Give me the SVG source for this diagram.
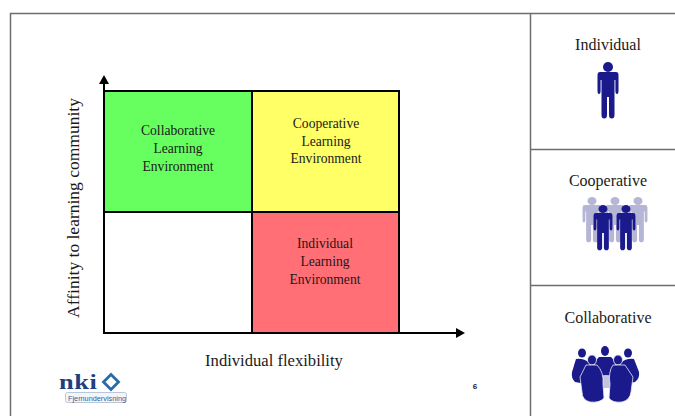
<svg xmlns="http://www.w3.org/2000/svg" width="675" height="416" viewBox="0 0 675 416">
<style>
.t{font-family:"Liberation Serif","Times New Roman",serif;fill:#1a1a1a;text-anchor:middle}
.c{font-size:13.6px}.h{font-size:16px}.a{font-size:16.6px}
.frame{fill:none;stroke:#6e6e6e;stroke-width:1.5}
.cell{stroke:#000;stroke-width:2}
.ax{fill:none;stroke:#000;stroke-width:2}
.navy{fill:#1a1a8c}
.front{fill:#1a1a8c;stroke:#e8e8f4;stroke-width:.8}
</style>
<defs>
<marker id="arr" markerUnits="userSpaceOnUse" markerWidth="10" markerHeight="10" refX="1" refY="5" orient="auto"><path d="M0 0L9 5L0 10z" fill="#000"/></marker>
<g id="person"><ellipse cx="0" cy="5" rx="5" ry="5"/><path d="M-8 10H8Q10.500 10 10.500 13V29Q10.500 32 9 32Q7.400 32 7.400 29V18H6.500V53Q6.500 56.500 3.800 56.500Q1 56.500 1 53V35H-1V53Q-1 56.500 -3.800 56.500Q-6.500 56.500 -6.500 53V18H-7.400V29Q-7.400 32 -9 32Q-10.500 32 -10.500 29V13Q-10.500 10 -8 10z"/></g>
</defs>
<rect width="675" height="416" fill="#fff"/>
<g id="frame"><path class="frame" d="M675 13.500H10.500V416M530.500 13.500V416M530.500 149.500H675M530.500 285.500H675"/></g>
<g id="cell-collaborative"><rect class="cell" x="104" y="91" width="148" height="121" fill="#66ff5f"/><text class="t c" x="178" y="135">Collaborative</text><text class="t c" x="178" y="153">Learning</text><text class="t c" x="178" y="171">Environment</text></g>
<g id="cell-cooperative"><rect class="cell" x="252" y="91" width="147" height="121" fill="#ffff66"/><text class="t c" x="326" y="128">Cooperative</text><text class="t c" x="326" y="146">Learning</text><text class="t c" x="326" y="163">Environment</text></g>
<g id="cell-empty"><rect class="cell" x="104" y="212" width="148" height="121" fill="#fff"/></g>
<g id="cell-individual"><rect class="cell" x="252" y="212" width="147" height="121" fill="#ff6f75"/><text class="t c" x="325" y="248">Individual</text><text class="t c" x="325" y="266">Learning</text><text class="t c" x="325" y="284">Environment</text></g>
<g id="connectors"><path class="ax" d="M104 333V83" marker-end="url(#arr)"/><path class="ax" d="M104 333H457" marker-end="url(#arr)"/></g>
<g id="axis-y"><text class="t" font-size="17.500" transform="translate(79 208) rotate(-90)">Affinity to learning community</text></g>
<g id="axis-x"><text class="t a" x="274" y="366">Individual flexibility</text></g>
<g id="panel-individual"><text class="t h" x="608" y="50">Individual</text><use href="#person" x="608" y="62" class="navy"/></g>
<g id="panel-cooperative"><text class="t h" x="608" y="186">Cooperative</text>
<g fill="#b5b5d6"><use href="#person" transform="translate(592 197) scale(.9 .8)"/><use href="#person" transform="translate(615 197) scale(.9 .8)"/><use href="#person" transform="translate(638 197) scale(.9 .8)"/></g>
<g class="navy"><use href="#person" transform="translate(603 205) scale(.9 .8)"/><use href="#person" transform="translate(626 205) scale(.9 .8)"/></g></g>
<g id="panel-collaborative"><text class="t h" x="608" y="323">Collaborative</text>
<g class="navy"><ellipse cx="582" cy="353" rx="4" ry="4.500"/><ellipse cx="605" cy="351" rx="4" ry="5"/><ellipse cx="628" cy="353" rx="4" ry="4.500"/>
<path d="M576 359Q584 358 589 363L594 374L586 384L575 382Q571 378 572 372z"/><path d="M599 357H611Q615 360 617 372L612 378H598L593 372Q595 360 599 357z"/><path d="M621 363Q626 358 634 359L639 372Q640 378 635 382L624 384L616 374z"/></g>
<path d="M590 377Q606 373 622 377L620 388H592z" fill="#c3c3e0"/>
<g class="front"><ellipse cx="592" cy="360" rx="4.500" ry="5"/><ellipse cx="618" cy="360" rx="4.500" ry="5"/>
<path d="M586 365H597Q604 372 603 384L604 398Q600 403 590 402Q582 400 582 392L580 377z"/><path d="M613 365H625L633 377L631 392Q630 400 622 402Q612 403 609 398L610 384Q608 372 613 365z"/></g></g>
<g id="logo"><text transform="translate(59 389) scale(1.2 1)" font-family="Liberation Serif,serif" font-size="22" font-weight="bold" letter-spacing=".5" fill="#1f3f7f">nki</text>
<path d="M111 374.500L118.500 382L111 389.500L103.500 382z" fill="#fff" stroke="#2a6aa8" stroke-width="2.800"/>
<rect x="65.500" y="392.500" width="61" height="10" rx="2" fill="#f2f5fa" stroke="#b8c6dc"/>
<text x="68" y="401" font-family="Liberation Sans,sans-serif" font-size="7.300" fill="#3f5f8f">Fjernundervisning</text></g>
<g id="page-number"><text x="475" y="389" font-family="Liberation Sans,sans-serif" font-size="8" font-weight="bold" text-anchor="middle" fill="#1a1a4a">6</text></g>
</svg>
